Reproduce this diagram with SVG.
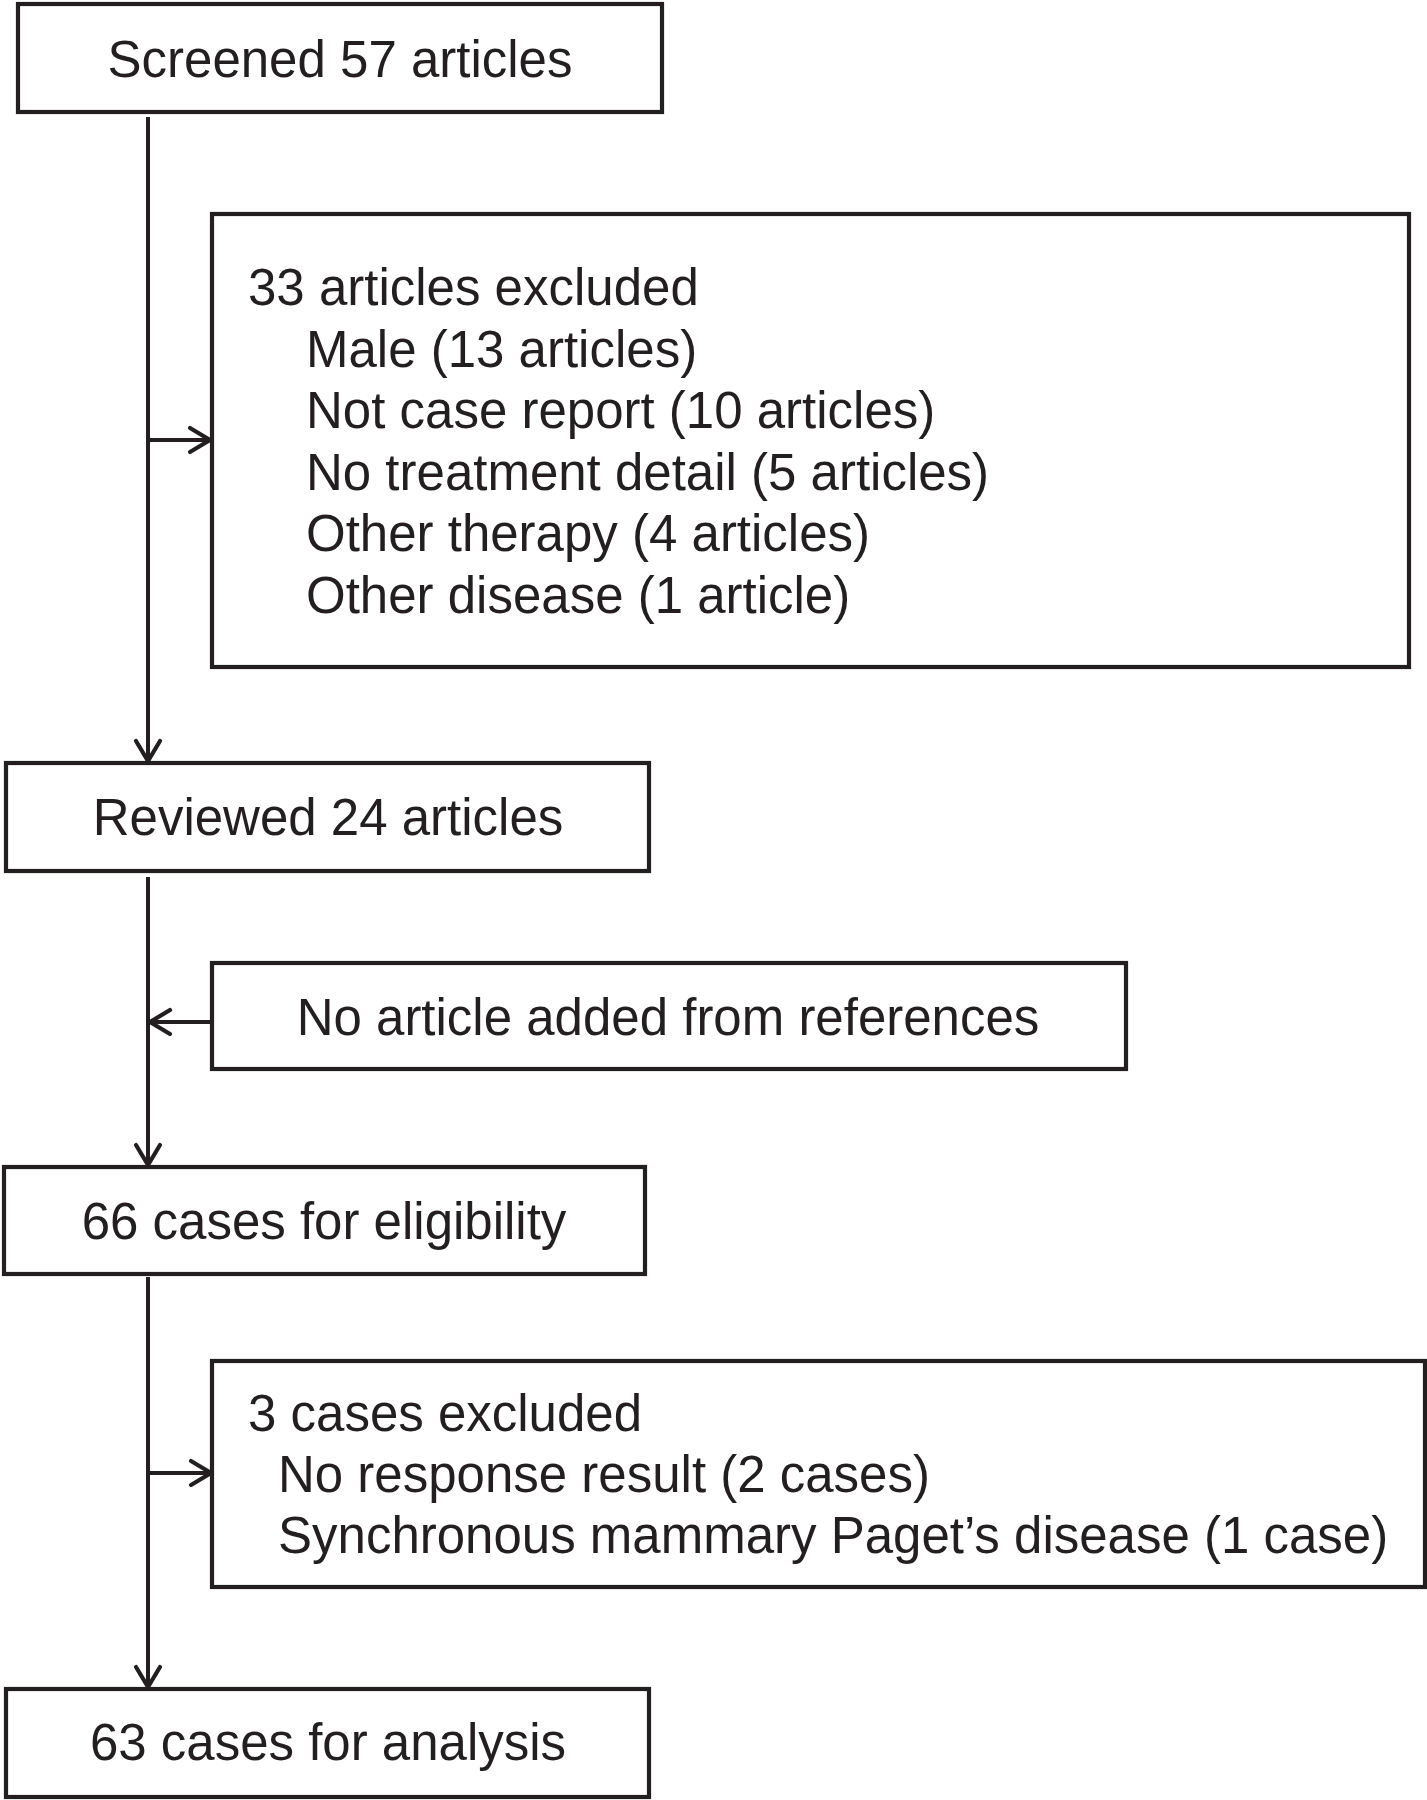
<svg xmlns="http://www.w3.org/2000/svg" width="1427" height="1800" viewBox="0 0 1427 1800">
  <style>
    .box { fill: #ffffff; stroke: #231f20; stroke-width: 4.2; }
    .conn { fill: none; stroke: #231f20; stroke-width: 4; }
    .t { font-family: "Liberation Sans", Arial, Helvetica, sans-serif; font-size: 51px; fill: #231f20; }
    .c { text-anchor: middle; }
  </style>
  <defs>
    <marker id="arr" markerUnits="userSpaceOnUse" markerWidth="30" markerHeight="30" viewBox="0 0 30 30" refX="23" refY="15" orient="auto">
      <path d="M3,3 L23,15 L3,27" fill="none" stroke="#231f20" stroke-width="4.2" stroke-linejoin="miter" stroke-linecap="round"/>
    </marker>
  </defs>
  <rect width="1427" height="1800" fill="#ffffff"/>

  <g id="connectors">
    <line class="conn" x1="148" y1="117" x2="148" y2="761" marker-end="url(#arr)"/>
    <line class="conn" x1="148" y1="440" x2="210" y2="440" marker-end="url(#arr)"/>
    <line class="conn" x1="148" y1="877" x2="148" y2="1165" marker-end="url(#arr)"/>
    <line class="conn" x1="212" y1="1022" x2="150" y2="1022" marker-end="url(#arr)"/>
    <line class="conn" x1="148" y1="1277" x2="148" y2="1687" marker-end="url(#arr)"/>
    <line class="conn" x1="148" y1="1473" x2="211" y2="1473" marker-end="url(#arr)"/>
  </g>

  <g id="screened">
    <rect class="box" x="18" y="4" width="644" height="108"/>
    <text class="t c" x="340" y="77">Screened 57 articles</text>
  </g>

  <g id="excluded-articles">
    <rect class="box" x="212" y="214" width="1197" height="453"/>
    <text class="t" x="248" y="305">33 articles excluded</text>
    <text class="t" x="306" y="366.5">Male (13 articles)</text>
    <text class="t" x="306" y="428">Not case report (10 articles)</text>
    <text class="t" x="306" y="489.5">No treatment detail (5 articles)</text>
    <text class="t" x="306" y="551">Other therapy (4 articles)</text>
    <text class="t" x="306" y="612.5">Other disease (1 article)</text>
  </g>

  <g id="reviewed">
    <rect class="box" x="6" y="763" width="643" height="108"/>
    <text class="t c" x="328" y="835">Reviewed 24 articles</text>
  </g>

  <g id="references">
    <rect class="box" x="212" y="963" width="914" height="106"/>
    <text class="t c" x="668" y="1035">No article added from references</text>
  </g>

  <g id="eligibility">
    <rect class="box" x="4" y="1167" width="641" height="107"/>
    <text class="t c" x="324" y="1239">66 cases for eligibility</text>
  </g>

  <g id="excluded-cases">
    <rect class="box" x="212" y="1361" width="1213" height="226"/>
    <text class="t" x="248" y="1431">3 cases excluded</text>
    <text class="t" x="278" y="1492">No response result (2 cases)</text>
    <text class="t" x="278" y="1553">Synchronous mammary Paget’s disease (1 case)</text>
  </g>

  <g id="analysis">
    <rect class="box" x="6" y="1689" width="643" height="108"/>
    <text class="t c" x="328" y="1760">63 cases for analysis</text>
  </g>
</svg>
